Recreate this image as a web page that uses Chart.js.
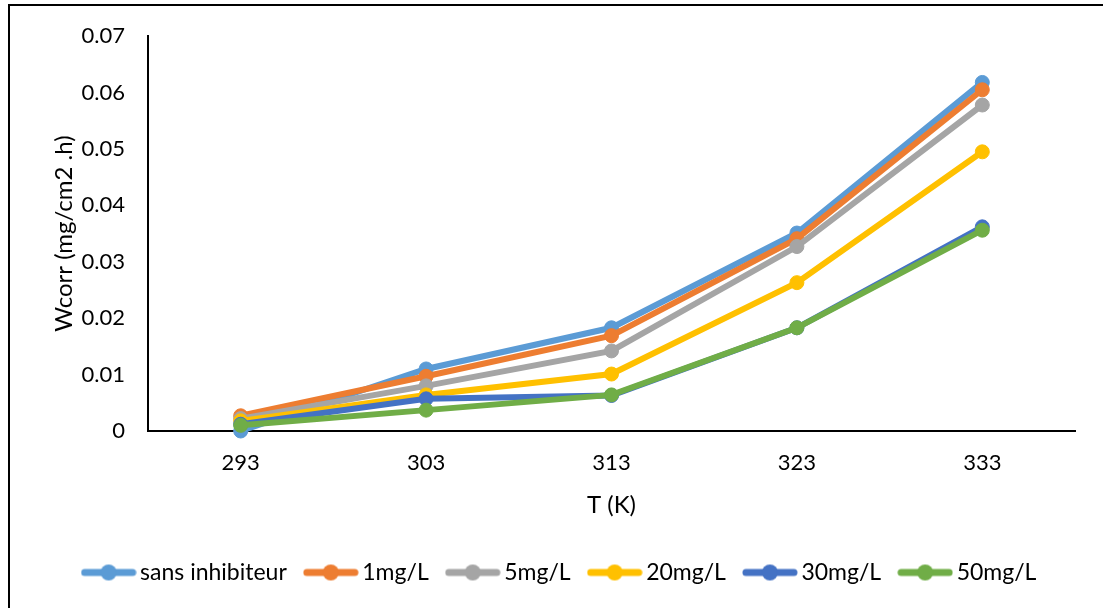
<!DOCTYPE html>
<html>
<head>
<meta charset="utf-8">
<script src="https://cdn.jsdelivr.net/npm/chart.js@4/dist/chart.umd.min.js"></script>
<style>
html, body { margin: 0; padding: 0; background: #fff; }
#wrap { position: relative; width: 1103px; height: 608px; }
</style>
</head>
<body>
<div id="wrap"><canvas id="wcorrChart"></canvas></div>
<script>
// Data
const temperatures = ['293', '303', '313', '323', '333'];
const sansInhibiteur = [0.0000, 0.0110, 0.0183, 0.0351, 0.0618];
const c1mg = [0.0027, 0.0097, 0.0169, 0.0341, 0.0605];
const c5mg = [0.0022, 0.0080, 0.0142, 0.0327, 0.0578];
const c20mg = [0.0018, 0.0064, 0.0101, 0.0263, 0.0495];
const c30mg = [0.0012, 0.0057, 0.0063, 0.0183, 0.0362];
const c50mg = [0.0010, 0.0037, 0.0064, 0.0183, 0.0356];
const seriesNames = ['sans inhibiteur', '1mg/L', '5mg/L', '20mg/L', '30mg/L', '50mg/L'];
const seriesColors = ['#5B9BD5', '#ED7D31', '#A5A5A5', '#FFC000', '#4472C4', '#70AD47'];
const yTickLabels = ['0', '0.01', '0.02', '0.03', '0.04', '0.05', '0.06', '0.07'];

const FONT = 'Lato, "Open Sans", sans-serif';
const allSeries = [sansInhibiteur, c1mg, c5mg, c20mg, c30mg, c50mg];

// little line + dot marker for the legend
function legendMarker(color) {
    const c = document.createElement('canvas');
    c.width = 56;
    c.height = 18;
    const g = c.getContext('2d');
    g.strokeStyle = color;
    g.lineWidth = 7;
    g.lineCap = 'round';
    g.beginPath();
    g.moveTo(4, 9);
    g.lineTo(52, 9);
    g.stroke();
    g.fillStyle = color;
    g.beginPath();
    g.arc(28, 9, 8, 0, Math.PI * 2);
    g.fill();
    return c;
}
const markers = seriesColors.map(legendMarker);

const framePlugin = {
    id: 'frame',
    afterDraw(chart) {
        const g = chart.ctx;
        g.save();
        g.strokeStyle = '#000';
        g.lineWidth = 2;
        g.beginPath();
        g.moveTo(9, 608);
        g.lineTo(9, 5);
        g.lineTo(1103, 5);
        g.stroke();
        g.restore();
    }
};

const ctx = document.getElementById('wcorrChart').getContext('2d');
new Chart(ctx, {
    type: 'line',
    data: {
        labels: temperatures,
        datasets: allSeries.map((vals, i) => ({
            label: seriesNames[i],
            data: vals,
            borderColor: seriesColors[i],
            backgroundColor: seriesColors[i],
            pointBackgroundColor: seriesColors[i],
            pointBorderColor: seriesColors[i],
            borderWidth: 6,
            pointRadius: 7,
            pointBorderWidth: 1,
            tension: 0,
            fill: false,
            clip: false,
            order: allSeries.length - i
        }))
    },
    options: {
        responsive: true,
        maintainAspectRatio: false,
        animation: false,
        events: [],
        layout: { padding: { left: 50, right: 28, top: 35, bottom: 14 } },
        plugins: {
            tooltip: { enabled: false },
            legend: {
                position: 'bottom',
                labels: {
                    usePointStyle: true,
                    pointStyleWidth: 40,
                    padding: 24,
                    color: '#000',
                    font: { family: FONT, size: 23 },
                    sort: (a, b) => a.datasetIndex - b.datasetIndex,
                    generateLabels(chart) {
                        const items = Chart.defaults.plugins.legend.labels.generateLabels(chart);
                        items.forEach(it => { it.pointStyle = markers[it.datasetIndex]; });
                        return items;
                    }
                }
            }
        },
        scales: {
            x: {
                offset: true,
                grid: { display: false, drawTicks: false },
                border: { display: true, color: '#000', width: 2 },
                ticks: { color: '#000', padding: 19, font: { family: FONT, size: 22 } },
                title: {
                    display: true,
                    text: 'T (K)',
                    color: '#000',
                    padding: { top: 0, bottom: 17 },
                    font: { family: FONT, size: 24 }
                },
                afterFit(s) { s.height = 106; }
            },
            y: {
                min: 0,
                max: 0.07,
                grid: { display: false, drawTicks: false },
                border: { display: true, color: '#000', width: 2 },
                ticks: {
                    stepSize: 0.01,
                    color: '#000',
                    padding: 23,
                    font: { family: FONT, size: 22 },
                    callback: (v, idx) => yTickLabels[idx]
                },
                title: {
                    display: true,
                    text: 'Wcorr (mg/cm2 .h)',
                    color: '#000',
                    padding: 0,
                    font: { family: FONT, size: 24 }
                },
                afterFit(s) { s.width = 98; }
            }
        }
    },
    plugins: [framePlugin]
});
</script>
</body>
</html>
